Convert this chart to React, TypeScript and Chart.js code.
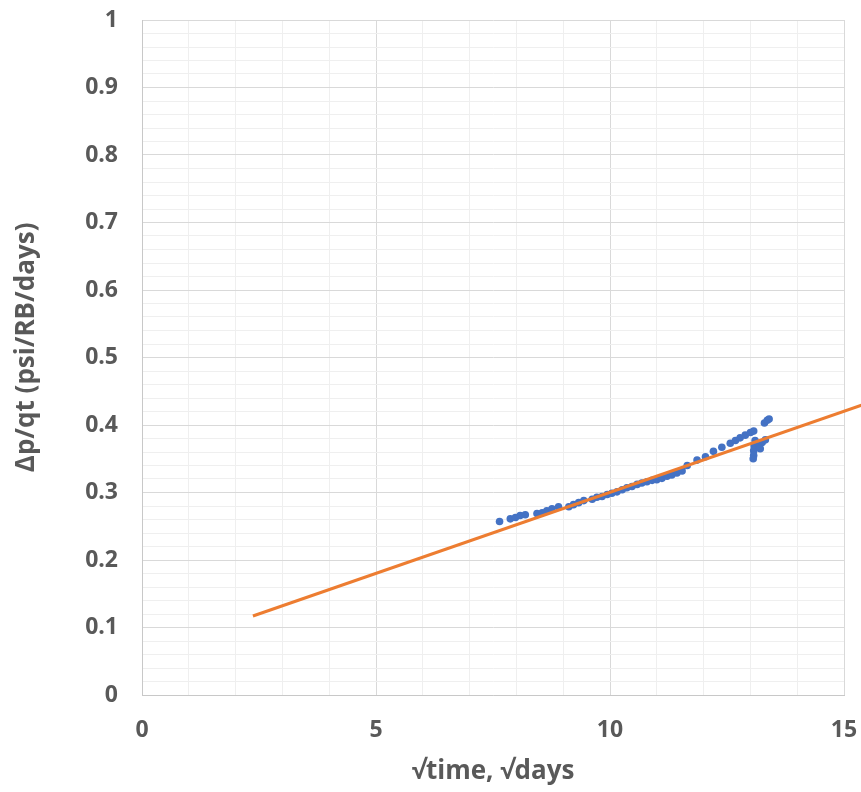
import React, { useEffect, useRef } from "react";
import { Chart, registerables } from "chart.js";

Chart.register(...registerables);

// Scatter data: sqrt(time) [sqrt(days)] vs Δp/qt [psi/RB/days]
const sqrtTime: number[] = [
  7.64, 7.87, 7.98, 8.08, 8.19, 8.44, 8.55, 8.65, 8.76, 8.9,
  9.12, 9.22, 9.33, 9.44, 9.62, 9.72, 9.83, 9.94, 10.04, 10.15,
  10.26, 10.36, 10.47, 10.58, 10.68, 10.79, 10.9, 11.0, 11.11, 11.22,
  11.32, 11.43, 11.54, 11.65, 11.86, 12.04, 12.21, 12.39, 12.57, 12.68,
  12.78, 12.89, 13.0, 13.07, 13.1, 13.08, 13.07, 13.07, 13.06, 13.18,
  13.25, 13.32, 13.21, 13.3, 13.36, 13.4,
];
const dpq: number[] = [
  0.257, 0.261, 0.263, 0.266, 0.267, 0.269, 0.27, 0.273, 0.276, 0.279,
  0.279, 0.282, 0.285, 0.288, 0.29, 0.293, 0.294, 0.297, 0.299, 0.301,
  0.304, 0.307, 0.309, 0.312, 0.314, 0.316, 0.318, 0.319, 0.321, 0.324,
  0.326, 0.329, 0.332, 0.34, 0.348, 0.353, 0.361, 0.367, 0.373, 0.377,
  0.381, 0.385, 0.389, 0.391, 0.377, 0.369, 0.362, 0.355, 0.35, 0.369,
  0.374, 0.378, 0.365, 0.403, 0.407, 0.409,
];

// Straight-line fit (trendline) end points
const trendX: number[] = [2.37, 15.4];
const trendY: number[] = [0.117, 0.43];

const xMajorTicks: number[] = [0, 5, 10, 15];
const yMajorTicks: string[] = ["0", "0.1", "0.2", "0.3", "0.4", "0.5", "0.6", "0.7", "0.8", "0.9", "1"];

const xTitle = "√time, √days";
const yTitle = "   Δp/qt (psi/RB/days)";

const FONT = "'Open Sans', 'DejaVu Sans', sans-serif";
const TEXT = "#595959";

export default function App() {
  const ref = useRef<HTMLCanvasElement | null>(null);

  useEffect(() => {
    if (!ref.current) return;
    const chart = new Chart(ref.current, {
      type: "scatter",
      data: {
        datasets: [
          {
            type: "line",
            label: "Trend",
            data: trendX.map((x, i) => ({ x, y: trendY[i] })),
            borderColor: "#ED7D31",
            borderWidth: 3,
            pointRadius: 0,
            fill: false,
            clip: false as any,
          },
          {
            type: "scatter",
            label: "Data",
            data: sqrtTime.map((x, i) => ({ x, y: dpq[i] })),
            backgroundColor: "#4472C4",
            borderWidth: 0,
            pointRadius: 3.8,
          },
        ],
      },
      options: {
        animation: false,
        responsive: false,
        layout: { padding: { top: 20, right: 17, left: 0, bottom: 0 } },
        plugins: { legend: { display: false }, tooltip: { enabled: false } },
        scales: {
          x: {
            type: "linear",
            min: 0,
            max: 15,
            afterFit: (s: any) => {
              s.height = 97;
              s.paddingLeft = 0;
              s.paddingRight = 0;
            },
            ticks: {
              stepSize: 1,
              autoSkip: false,
              maxRotation: 0,
              padding: 22,
              color: TEXT,
              font: { family: FONT, size: 23, weight: "bold" },
              callback: (v: any) => (xMajorTicks.includes(Number(v)) ? String(v) : ""),
            },
            grid: {
              drawTicks: false,
              color: (c: any) => (c.tick && Number(c.tick.value) % 5 === 0 ? "#d9d9d9" : "#efefef"),
              lineWidth: 1,
            },
            border: { display: true, color: "#c8c8c8", width: 1 },
            title: {
              display: true,
              text: xTitle,
              color: TEXT,
              font: { family: FONT, size: 26, weight: "bold" },
              padding: { top: 0, bottom: 5 },
            },
          },
          y: {
            type: "linear",
            min: 0,
            max: 1,
            afterFit: (s: any) => {
              s.width = 142;
              s.paddingTop = 0;
              s.paddingBottom = 0;
            },
            ticks: {
              stepSize: 0.02,
              autoSkip: false,
              padding: 24,
              color: TEXT,
              font: { family: FONT, size: 23, weight: "bold" },
              callback: (v: any) => {
                const r = Math.round(Number(v) * 50);
                return r % 5 === 0 ? yMajorTicks[r / 5] : "";
              },
            },
            grid: {
              drawTicks: false,
              color: (c: any) => {
                if (!c.tick) return "#efefef";
                const r = Math.round(Number(c.tick.value) * 50);
                return r % 5 === 0 ? "#d9d9d9" : "#efefef";
              },
              lineWidth: 1,
            },
            border: { display: true, color: "#c8c8c8", width: 1 },
            title: {
              display: true,
              text: yTitle,
              color: TEXT,
              font: { family: FONT, size: 26, weight: "bold" },
              padding: { top: 11, bottom: 0 },
            },
          },
        },
      },
    });
    return () => chart.destroy();
  }, []);

  return (
    <div style={{ position: "fixed", left: 0, top: 0, width: 861, height: 792, background: "#fff" }}>
      <canvas ref={ref} width={861} height={792} style={{ width: 861, height: 792 }} />
    </div>
  );
}
